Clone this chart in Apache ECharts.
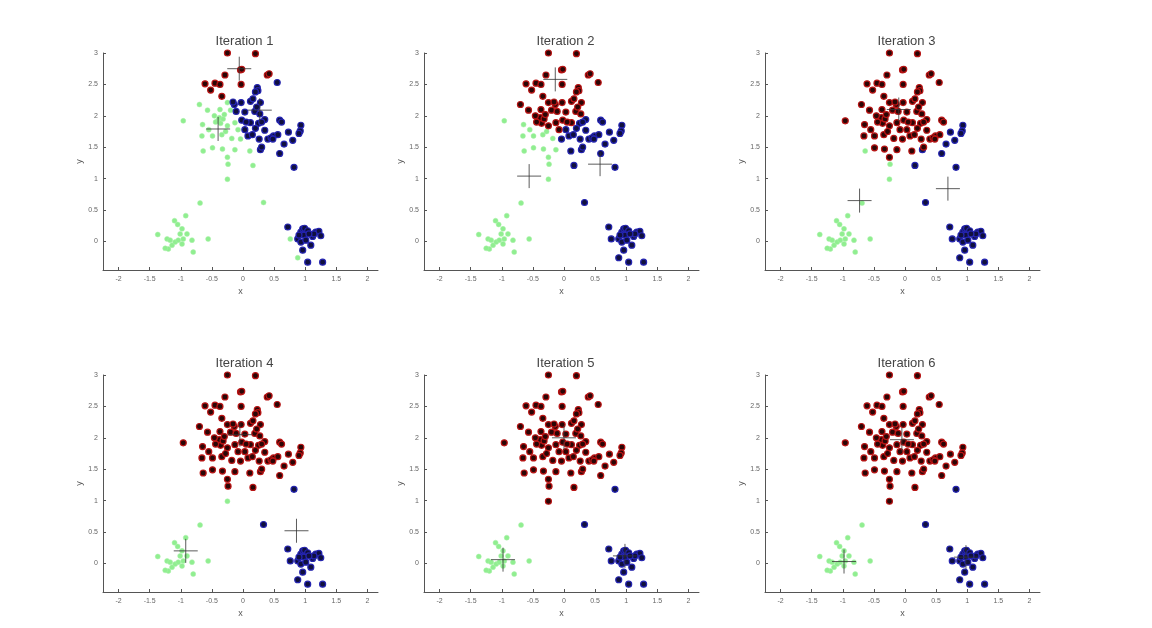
<!DOCTYPE html>
<html>
<head>
<meta charset="utf-8">
<title>k-means iterations</title>
<script src="https://cdn.jsdelivr.net/npm/echarts@6/dist/echarts.min.js"></script>
<style>
    html, body { margin: 0; padding: 0; background: #fff; }
    #main { width: 1152px; height: 628px; }
</style>
</head>
<body>
<div id="main"></div>
<script>
// data points (x, y), same set in every iteration
var pointX = [
    -0.25, 0.2, -0.04, -0.02, 0.39, 0.42, 0.55, -0.29, -0.61, -0.52, -0.45, -0.37, -0.03, 0.23, 0.24, 0.20,
    -0.34, -0.70, -0.57, -0.25, -0.14, -0.03, 0.12, 0.28, -0.37, -0.20, -0.11, 0.03, 0.19, -0.96, -0.65,
    -0.40, -0.36, -0.38, -0.32, -0.25, -0.13, -0.02, 0.12, 0.25, 0.35, 0.59, 0.62, 0.93, 0.92, 0.90,
    -0.66, -0.49, -0.34, -0.18, -0.04, 0.08, 0.15, 0.26, 0.40, 0.49, 0.56, 0.45, 0.80, 0.66,
    -0.64, -0.49, -0.33, -0.13, 0.11, 0.28, 0.30, 0.59, -0.25, -0.24, 0.16, -0.25, 0.82, 0.33,
    -0.16, 0.16, 0.22, 0.27, 0.30, 0.35, 0.73, 0.05, 0.48,
    -0.44, -0.30, -0.46, -0.28, -0.08, 0.03, -0.55, 0.20,
    0.72, 0.76, 0.88, 0.93, 0.96, 0.99, 1.04, 0.98, 0.93, 1.12, 1.17, 1.22, 1.25, 0.96, 0.88,
    1.04, 1.28, 1.09, 1.01, 1.14, 1.06, 0.90,
    -1.37, -1.22, -1.20, -1.14, -1.09, -1.04, -0.96, -0.90, -0.98, -0.92, -1.10, -0.80, -0.56,
    -0.69, -0.82, -1.01, -1.17, -1.25, -0.98, -1.05
];
var pointY = [
    3.0, 2.99, 2.73, 2.74, 2.65, 2.67, 2.53, 2.65, 2.51, 2.41, 2.52, 2.50, 2.50, 2.45, 2.40, 2.38,
    2.31, 2.18, 2.09, 2.21, 2.18, 2.21, 2.23, 2.21, 2.10, 2.09, 2.07, 2.06, 2.07, 1.92, 1.86,
    1.93, 1.88, 1.97, 1.95, 1.84, 1.89, 1.93, 1.89, 1.88, 1.94, 1.93, 1.90, 1.85, 1.76, 1.72,
    1.68, 1.68, 1.70, 1.64, 1.63, 1.68, 1.70, 1.63, 1.63, 1.68, 1.70, 1.65, 1.61, 1.55,
    1.44, 1.49, 1.47, 1.46, 1.44, 1.46, 1.50, 1.40, 1.34, 1.23, 1.21, 0.99, 1.18, 0.62,
    2.22, 2.27, 2.14, 2.03, 1.90, 1.77, 1.74, 1.90, 1.63,
    1.90, 2.02, 2.00, 1.75, 1.78, 1.78, 1.78, 1.80,
    0.23, 0.04, 0.04, 0.15, 0.20, 0.21, 0.17, 0.10, -0.01, 0.08, 0.15, 0.16, 0.09, -0.14, -0.26,
    -0.33, -0.33, -0.06, 0.02, 0.12, 0.12, 0.10,
    0.11, 0.04, -0.12, -0.06, -0.01, 0.02, 0.04, 0.12, 0.20, 0.41, 0.33, -0.17, 0.04,
    0.61, 0.02, 0.12, 0.02, -0.11, -0.04, 0.27
];

var iterTitles = ['Iteration 1', 'Iteration 2', 'Iteration 3', 'Iteration 4', 'Iteration 5', 'Iteration 6'];

// centroid positions (the "+" marks) per iteration
var centroidRed = [[-0.06, 2.75], [-0.14, 2.58], [-0.10, 2.10], [-0.05, 2.05], [0.00, 2.00], [-0.05, 1.97]];
var centroidGreen = [[-0.40, 1.79], [-0.56, 1.04], [-0.73, 0.65], [-0.92, 0.20], [-0.98, 0.06], [-0.98, 0.03]];
var centroidBlue = [[0.27, 2.09], [0.58, 1.23], [0.69, 0.84], [0.86, 0.52], [0.98, 0.12], [0.98, 0.10]];

var xTicks = [-2, -1.5, -1, -0.5, 0, 0.5, 1, 1.5, 2];
var yTicks = [0, 0.5, 1, 1.5, 2, 2.5, 3];

// subplot boxes
var colLeft = [103, 424, 765];
var rowTop = [53, 375];
var boxW = 275;
var boxH = 217;

// fill / edge per cluster
var clusterFill = {red: '#2a0606', green: '#90ee90', blue: '#10103e'};
var clusterEdge = {red: '#b81414', green: '#a8f0a8', blue: '#2424b0'};

function dist2(x, y, c) {
    return (x - c[0]) * (x - c[0]) + (y - c[1]) * (y - c[1]);
}

var grids = [], xAxes = [], yAxes = [], titles = [], series = [];

for (var k = 0; k < 6; k++) {
    var col = k % 3, row = Math.floor(k / 3);
    grids.push({left: colLeft[col], top: rowTop[row], width: boxW, height: boxH});
    titles.push({
        text: iterTitles[k],
        left: colLeft[col] + boxW / 2 - 1,
        top: rowTop[row] - 23,
        textAlign: 'center',
        textStyle: {fontFamily: 'Liberation Sans', fontSize: 13, fontWeight: 'normal', color: '#444'}
    });
    xAxes.push({
        gridIndex: k, type: 'value', min: -2.25, max: 2.17,
        name: 'x', nameLocation: 'middle', nameGap: 17,
        nameTextStyle: {fontFamily: 'Liberation Sans', fontSize: 9, color: '#555'},
        axisLine: {onZero: false, lineStyle: {color: '#555', width: 1}},
        axisTick: {inside: true, length: 3, customValues: xTicks, lineStyle: {color: '#555'}},
        axisLabel: {customValues: xTicks, fontFamily: 'Liberation Sans', fontSize: 7, color: '#666', margin: 6},
        splitLine: {show: false}
    });
    yAxes.push({
        gridIndex: k, type: 'value', min: -0.455, max: 3,
        name: 'y', nameLocation: 'middle', nameGap: 19,
        nameTextStyle: {fontFamily: 'Liberation Sans', fontSize: 9, color: '#555'},
        axisLine: {show: true, onZero: false, lineStyle: {color: '#555', width: 1}},
        axisTick: {show: true, inside: true, length: 3, customValues: yTicks, lineStyle: {color: '#555'}},
        axisLabel: {customValues: yTicks, fontFamily: 'Liberation Sans', fontSize: 7, color: '#666', margin: 5},
        splitLine: {show: false}
    });

    // each point takes the colour of its nearest centroid in this iteration
    var groups = {red: [], green: [], blue: []};
    for (var i = 0; i < pointX.length; i++) {
        var px = pointX[i], py = pointY[i];
        var dr = dist2(px, py, centroidRed[k]);
        var dg = dist2(px, py, centroidGreen[k]);
        var db = dist2(px, py, centroidBlue[k]);
        var key = 'red';
        if (dg < dr && dg <= db) key = 'green';
        else if (db < dr && db < dg) key = 'blue';
        groups[key].push([px, py]);
    }

    ['green', 'blue', 'red'].forEach(function (key) {
        var isGreen = key === 'green';
        series.push({
            type: 'scatter', xAxisIndex: k, yAxisIndex: k,
            data: groups[key],
            symbol: 'circle',
            symbolSize: isGreen ? 5 : 6,
            silent: true,
            itemStyle: {
                color: clusterFill[key],
                borderColor: clusterEdge[key],
                borderWidth: isGreen ? 0.5 : 1.2,
                opacity: 1
            }
        });
    });

    series.push({
        type: 'scatter', xAxisIndex: k, yAxisIndex: k,
        data: [centroidRed[k], centroidGreen[k], centroidBlue[k]],
        symbol: 'path://M12,0L12,24M0,12L24,12',
        symbolSize: 24,
        silent: true,
        z: 5,
        itemStyle: {color: 'transparent', borderColor: '#333', borderWidth: 1}
    });
}

var myChart = echarts.init(document.getElementById('main'));
myChart.setOption({
    backgroundColor: '#fff',
    animation: false,
    title: titles,
    grid: grids,
    xAxis: xAxes,
    yAxis: yAxes,
    series: series
});
</script>
</body>
</html>
